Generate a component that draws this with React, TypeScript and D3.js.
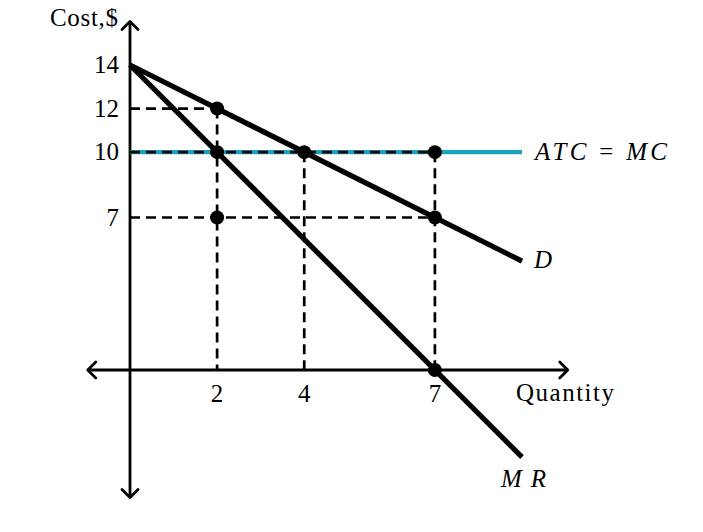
import { useEffect, useRef } from 'react'
import * as d3 from 'd3'

// chart values
const demand: [number, number][] = [[0, 14], [9, 5]]
const marginalRevenue: [number, number][] = [[0, 14], [9, -4]]
const atcMc: [number, number][] = [[0, 10], [9, 10]]
const points: [number, number][] = [[2, 12], [2, 10], [2, 7], [4, 10], [7, 10], [7, 7], [7, 0]]
const hGuides: [number, number][] = [[12, 2], [10, 7], [7, 7]] // [cost, up to quantity]
const vGuides: [number, number][] = [[2, 12], [4, 10], [7, 10]] // [quantity, from cost]
const xTicks = [2, 4, 7]
const yTicks = [14, 12, 10, 7]
const xAxisExtent = [-0.97, 10.05]
const yAxisExtent = [-5.85, 16]

const W = 703
const H = 532
const FONT = '"Liberation Serif", "Times New Roman", serif'

const App = () => {
  const ref = useRef<SVGSVGElement>(null)

  useEffect(() => {
    const svg = d3.select(ref.current)
    svg.selectAll('*').remove()

    const x = d3.scaleLinear().domain([0, 9]).range([130, 522])
    const y = d3.scaleLinear().domain([0, 14]).range([370, 65])
    const line = d3.line<[number, number]>().x((d) => x(d[0])).y((d) => y(d[1]))

    // axes
    const axes = svg.append('g').attr('stroke', '#000').attr('stroke-width', 2.8).attr('fill', 'none')
    axes.append('line').attr('x1', x(xAxisExtent[0])).attr('x2', x(xAxisExtent[1])).attr('y1', y(0)).attr('y2', y(0))
    axes.append('line').attr('x1', x(0)).attr('x2', x(0)).attr('y1', y(yAxisExtent[1])).attr('y2', y(yAxisExtent[0]))
    const a = 8
    const arrows = [
      { px: x(xAxisExtent[1]), py: y(0), dx: 1, dy: 0 },
      { px: x(xAxisExtent[0]), py: y(0), dx: -1, dy: 0 },
      { px: x(0), py: y(yAxisExtent[1]), dx: 0, dy: -1 },
      { px: x(0), py: y(yAxisExtent[0]), dx: 0, dy: 1 },
    ]
    arrows.forEach(({ px, py, dx, dy }) => {
      const bx = px - dx * a
      const by = py - dy * a
      axes
        .append('path')
        .attr('stroke-linecap', 'round')
        .attr('stroke-linejoin', 'round')
        .attr('d', `M${bx - dy * a},${by + dx * a}L${px},${py}L${bx + dy * a},${by - dx * a}`)
    })

    // ATC = MC line
    svg.append('path').datum(atcMc).attr('d', line).attr('stroke', '#1ba3bd').attr('stroke-width', 4.2).attr('fill', 'none')

    // dashed guides
    const guides = svg.append('g').attr('stroke', '#000').attr('stroke-width', 2.7).attr('stroke-dasharray', '10,6')
    hGuides.forEach(([c, q]) => {
      guides.append('line').attr('x1', x(0)).attr('x2', x(q)).attr('y1', y(c)).attr('y2', y(c))
    })
    vGuides.forEach(([q, c]) => {
      guides.append('line').attr('x1', x(q)).attr('x2', x(q)).attr('y1', y(c)).attr('y2', y(0))
    })

    // D and MR
    ;[demand, marginalRevenue].forEach((d) => {
      svg.append('path').datum(d).attr('d', line).attr('stroke', '#000').attr('stroke-width', 5.2).attr('fill', 'none')
    })

    // points
    svg
      .selectAll('circle.pt')
      .data(points)
      .enter()
      .append('circle')
      .attr('class', 'pt')
      .attr('cx', (d) => x(d[0]))
      .attr('cy', (d) => y(d[1]))
      .attr('r', 7)
      .attr('fill', '#000')

    // tick labels
    const txt = svg.append('g').attr('font-family', FONT).attr('font-size', 25).attr('fill', '#000')
    yTicks.forEach((t) => {
      txt.append('text').attr('x', 119).attr('y', y(t) + 8).attr('text-anchor', 'end').text(t)
    })
    xTicks.forEach((t) => {
      txt.append('text').attr('x', x(t)).attr('y', 402).attr('text-anchor', 'middle').text(t)
    })

    // axis titles
    txt.append('text').attr('x', 50).attr('y', 26).attr('textLength', 68).text('Cost,$')
    txt.append('text').attr('x', 516).attr('y', 401).attr('textLength', 98).text('Quantity')

    // curve labels
    const atc = txt.append('text').attr('x', 535).attr('y', 160).attr('textLength', 132)
    atc.append('tspan').attr('font-style', 'italic').text('ATC')
    atc.append('tspan').text(' = ')
    atc.append('tspan').attr('font-style', 'italic').text('MC')
    txt.append('text').attr('x', 534).attr('y', 268).attr('font-style', 'italic').text('D')
    txt.append('text').attr('x', 501).attr('y', 487).attr('font-style', 'italic').attr('textLength', 45).text('MR')
  }, [])

  return (
    <div style={{ margin: -8 }}>
      <svg ref={ref} width={W} height={H} style={{ display: 'block', background: '#fff' }} />
    </div>
  )
}

export default App
